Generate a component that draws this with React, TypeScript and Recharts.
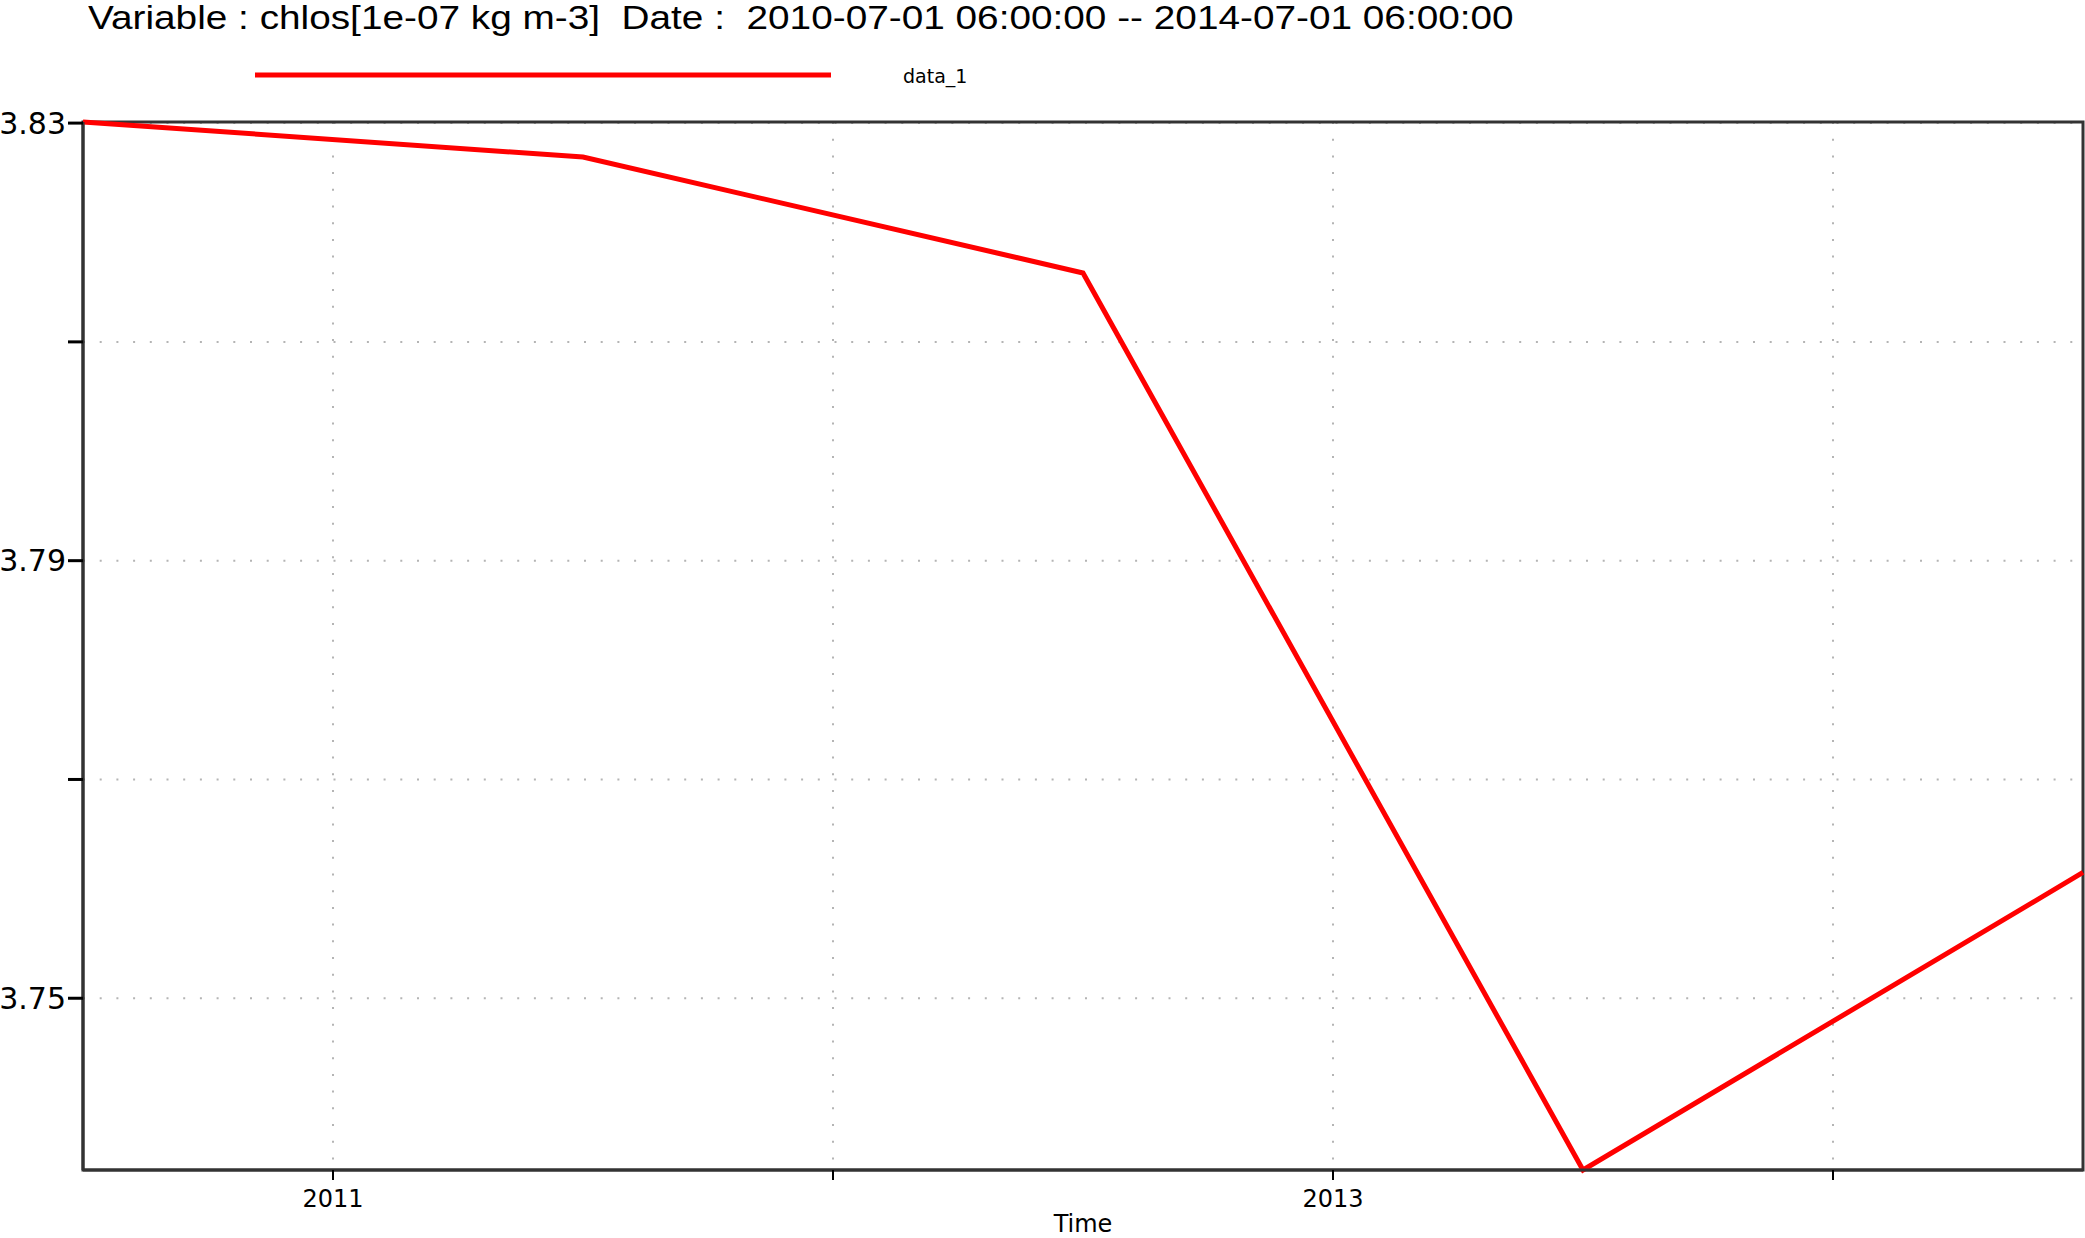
import React from 'react'
import { LineChart, Line, XAxis, YAxis, CartesianGrid, Legend, Label, ReferenceArea } from 'recharts'

// yearly means, sampled on 1 July (decimal years)
const years = [2010.5, 2011.5, 2012.5, 2013.5, 2014.5]
const chlos = [3.8301, 3.8269, 3.8163, 3.7343, 3.7615]

const xTicks = [2011, 2012, 2013, 2014]
const xTickLabels = ['2011', '', '2013', '']
const yTicks = [3.75, 3.77, 3.79, 3.81, 3.83]
const yTickLabels = ['3.75', '', '3.79', '', '3.83']

const seriesName = 'data_1'
const title = 'Variable : chlos[1e-07 kg m-3]  Date :  2010-07-01 06:00:00 -- 2014-07-01 06:00:00'

const data = years.map((t, i) => ({ t, v: chlos[i] }))
const xMin = years[0]
const xMax = years[years.length - 1]
const yMin = Math.min(...chlos)
const yMax = Math.max(...chlos)

const W = 2085
const H = 1238
const frame = '#333333'
const grid = '#b4b4b4'
const tickFont = 'DejaVu Sans, Verdana, sans-serif'

const renderLegend = () => (
  <svg width={W} height={40} style={{ display: 'block' }}>
    <line x1={255} x2={831} y1={20} y2={20} stroke="#ff0000" strokeWidth={5} />
    <text x={903} y={21} fontFamily={tickFont} fontSize={19} dominantBaseline="central" fill="#000">
      {seriesName}
    </text>
  </svg>
)

export default function App() {
  return (
    <div style={{ position: 'absolute', left: 0, top: 0, width: W, height: H, background: '#fff' }}>
      <div
        style={{
          position: 'absolute',
          left: 88,
          top: 0,
          fontFamily: 'Liberation Sans, Arial, sans-serif',
          fontSize: 34,
          lineHeight: '34px',
          whiteSpace: 'pre',
          color: '#000',
          transform: 'scaleX(1.14)',
          transformOrigin: 'left top',
        }}
      >
        {title}
      </div>
      <LineChart width={W} height={H} data={data} margin={{ top: 122, right: 2, left: 0, bottom: 0 }}>
        <CartesianGrid
          stroke={grid}
          strokeWidth={2}
          strokeDasharray="2 14.7"
          horizontalValues={yTicks}
          verticalValues={xTicks}
        />
        <XAxis
          dataKey="t"
          type="number"
          domain={[xMin, xMax]}
          ticks={xTicks}
          tickFormatter={(v, i) => xTickLabels[i] ?? ''}
          height={68}
          axisLine={{ stroke: frame, strokeWidth: 3 }}
          tickLine={{ stroke: '#000', strokeWidth: 2 }}
          tickSize={10}
          tickMargin={10}
          tick={{ fill: '#000', fontSize: 24, fontFamily: tickFont }}
        >
          <Label
            value="Time"
            position="insideBottom"
            offset={6}
            style={{ fill: '#000', fontSize: 24, fontFamily: tickFont }}
          />
        </XAxis>
        <YAxis
          type="number"
          domain={[yMin, yMax]}
          ticks={yTicks}
          tickFormatter={(v, i) => yTickLabels[i] ?? ''}
          width={83}
          axisLine={{ stroke: frame, strokeWidth: 3 }}
          tickLine={{ stroke: '#000', strokeWidth: 3 }}
          tickSize={15}
          tickMargin={2}
          tick={{ fill: '#000', fontSize: 30, fontFamily: tickFont }}
        />
        {/* box round the plot area (top and right edges) */}
        <ReferenceArea
          x1={xMin}
          x2={xMax}
          y1={yMin}
          y2={yMax}
          fill="none"
          fillOpacity={0}
          stroke={frame}
          strokeWidth={3}
          strokeOpacity={1}
          ifOverflow="visible"
        />
        <Legend
          layout="horizontal"
          verticalAlign="middle"
          align="center"
          content={renderLegend}
          wrapperStyle={{ position: 'absolute', top: 55, left: 0, width: W, height: 40 }}
        />
        <Line
          type="linear"
          dataKey="v"
          name={seriesName}
          stroke="#ff0000"
          strokeWidth={5}
          dot={false}
          isAnimationActive={false}
        />
      </LineChart>
    </div>
  )
}
